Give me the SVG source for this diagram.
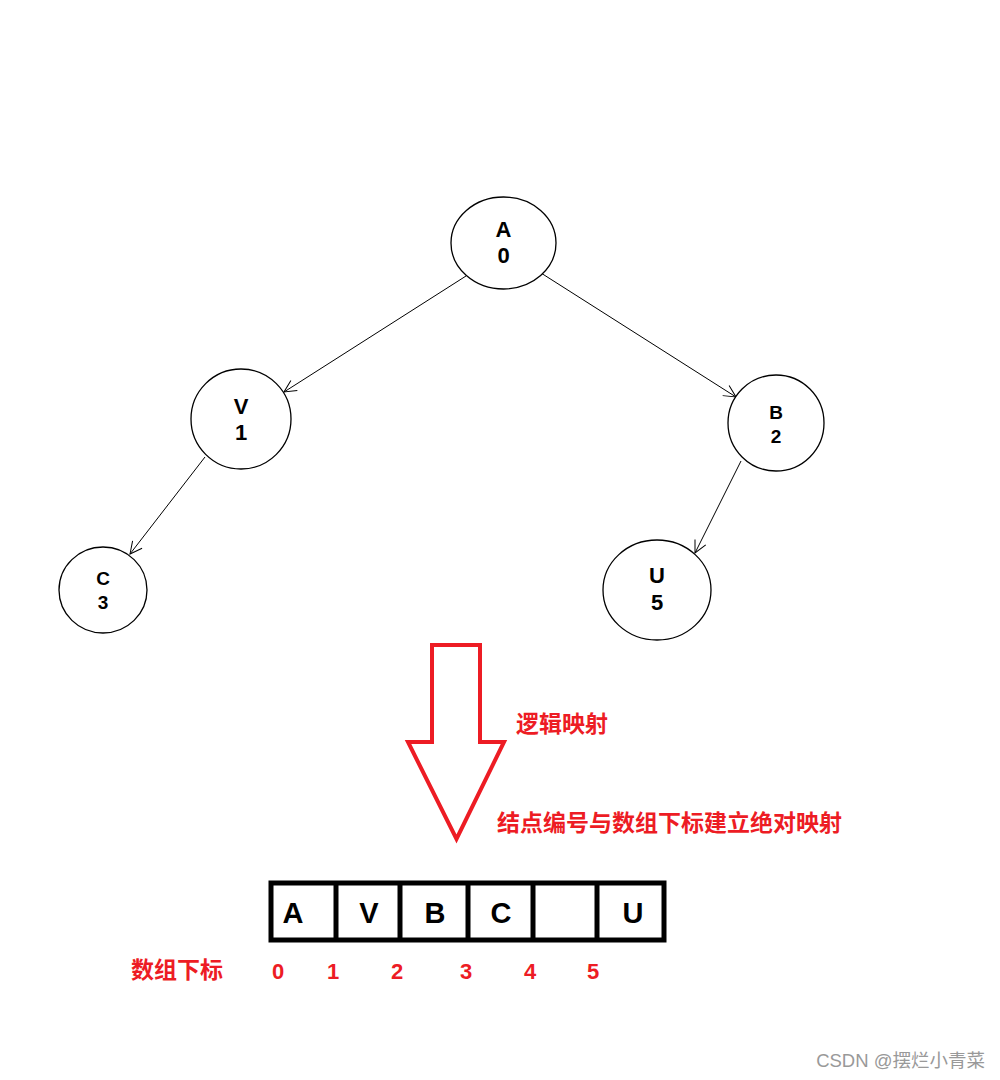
<svg xmlns="http://www.w3.org/2000/svg" width="1000" height="1080" viewBox="0 0 1000 1080">
<style>
.node{fill:#fff;stroke:#000;stroke-width:1.3}
.nt{font-family:"Liberation Sans",Arial,sans-serif;font-weight:bold;fill:#000;text-anchor:middle}
.edge{stroke:#000;stroke-width:1;fill:none;marker-end:url(#ah)}
.red{font-family:"Noto Sans CJK SC","Liberation Sans",sans-serif;font-weight:bold;fill:#ed1c24}
.cell{font-family:"Liberation Sans",Arial,sans-serif;font-weight:bold;font-size:29px;fill:#000;text-anchor:middle}
.idx{font-family:"Liberation Sans",Arial,sans-serif;font-weight:bold;font-size:22px;fill:#ed1c24;text-anchor:middle}
</style>
<defs>
<marker id="ah" viewBox="0 0 14 14" refX="13" refY="7" markerWidth="14" markerHeight="14" markerUnits="userSpaceOnUse" orient="auto">
<path d="M1,1 L13,7 L1,13" fill="none" stroke="#000" stroke-width="1"/>
</marker>
</defs>
<rect width="1000" height="1080" fill="#fff"/>
<g id="edges">
<line class="edge" x1="466" y1="276" x2="284" y2="392"/>
<line class="edge" x1="541" y1="273" x2="736" y2="397"/>
<line class="edge" x1="205" y1="457" x2="130" y2="554"/>
<line class="edge" x1="741" y1="461" x2="695" y2="553"/>
</g>
<g id="nodeA"><ellipse class="node" cx="503.5" cy="243" rx="52.5" ry="46"/><text class="nt" x="503.5" y="237" font-size="22">A</text><text class="nt" x="503.5" y="263" font-size="22">0</text></g>
<g id="nodeV"><ellipse class="node" cx="241" cy="419" rx="50" ry="50"/><text class="nt" x="241" y="414" font-size="22">V</text><text class="nt" x="241" y="440" font-size="22">1</text></g>
<g id="nodeB"><ellipse class="node" cx="776" cy="423" rx="48" ry="48"/><text class="nt" x="776" y="419" font-size="19">B</text><text class="nt" x="776" y="443" font-size="19">2</text></g>
<g id="nodeC"><ellipse class="node" cx="103" cy="590" rx="44" ry="43"/><text class="nt" x="103" y="585" font-size="19">C</text><text class="nt" x="103" y="609" font-size="19">3</text></g>
<g id="nodeU"><ellipse class="node" cx="657" cy="590" rx="54" ry="50"/><text class="nt" x="657" y="583" font-size="22">U</text><text class="nt" x="657" y="610" font-size="22">5</text></g>
<g id="bigArrow">
<path d="M432,645 L480,645 L480,742 L504,742 L456.5,839 L408,742 L432,742 Z" fill="none" stroke="#ed1c24" stroke-width="4" stroke-linejoin="miter"/>
</g>
<text class="red" x="516" y="732" font-size="23">逻辑映射</text>
<text class="red" x="497" y="831" font-size="23">结点编号与数组下标建立绝对映射</text>
<g id="array">
<rect x="271" y="883" width="393" height="57" fill="#fff" stroke="#000" stroke-width="5"/>
<line x1="336" y1="883" x2="336" y2="940" stroke="#000" stroke-width="5"/>
<line x1="400" y1="883" x2="400" y2="940" stroke="#000" stroke-width="5"/>
<line x1="468" y1="883" x2="468" y2="940" stroke="#000" stroke-width="5"/>
<line x1="533" y1="883" x2="533" y2="940" stroke="#000" stroke-width="5"/>
<line x1="597" y1="883" x2="597" y2="940" stroke="#000" stroke-width="5"/>
<text class="cell" x="293" y="923">A</text>
<text class="cell" x="369" y="923">V</text>
<text class="cell" x="435" y="923">B</text>
<text class="cell" x="501" y="923">C</text>
<text class="cell" x="633" y="923">U</text>
</g>
<text class="red" x="131" y="978" font-size="23">数组下标</text>
<g id="indices">
<text class="idx" x="278" y="979">0</text>
<text class="idx" x="333" y="979">1</text>
<text class="idx" x="397" y="979">2</text>
<text class="idx" x="466" y="979">3</text>
<text class="idx" x="530" y="979">4</text>
<text class="idx" x="593" y="979">5</text>
</g>
<text x="985" y="1067" font-family="'Liberation Sans','Noto Sans CJK SC',sans-serif" font-size="18.5" fill="#999" text-anchor="end">CSDN @摆烂小青菜</text>
</svg>
